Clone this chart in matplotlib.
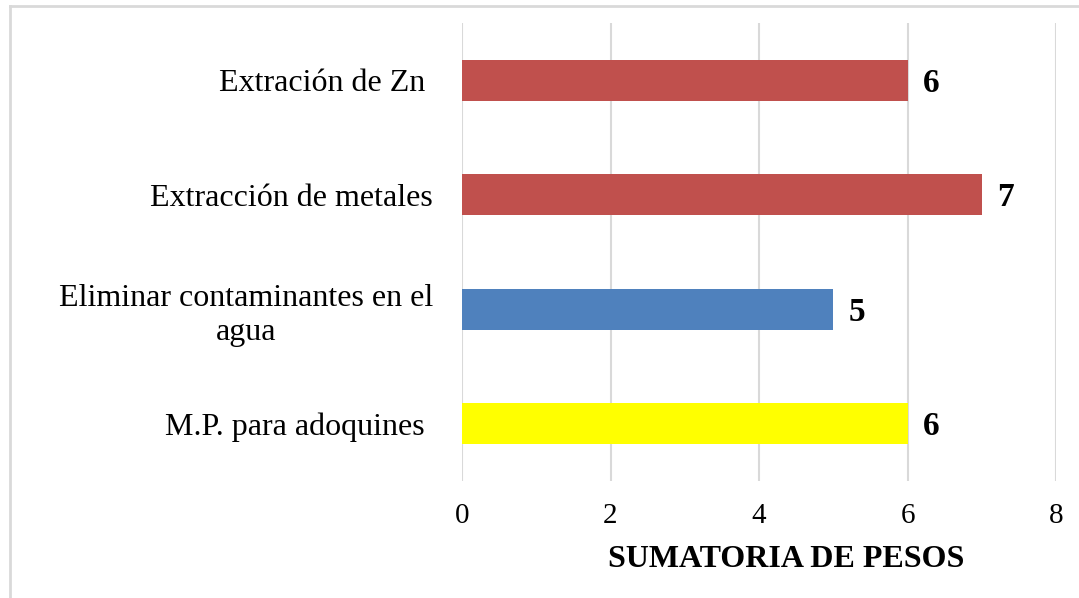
import matplotlib.pyplot as plt
from matplotlib.lines import Line2D

# categorias de baixo para cima
categorias = ["M.P. para adoquines ", "Eliminar contaminantes en el\nagua",
              "Extracción de metales", "Extración de Zn "]
pesos = [6, 5, 7, 6]
cores = ["#FFFF00", "#4F81BD", "#C0504D", "#C0504D"]
ticks_x = [0, 2, 4, 6, 8]

plt.rcParams['font.family'] = ['Liberation Serif', 'DejaVu Serif']

fig = plt.figure(figsize=(10.79, 5.98), dpi=100)
ax = fig.add_axes([462/1079, 1-481/598, (1056-462)/1079, (481-23)/598])

pos = range(len(categorias))
barras = ax.barh(pos, pesos, height=0.36, color=cores, zorder=3)

# valor no fim de cada barra
for b, v in zip(barras, pesos):
    ax.annotate(str(v), (b.get_width(), b.get_y() + b.get_height()/2),
                xytext=(11, -2), textcoords="offset points",
                ha="left", va="center", fontsize=24, fontweight="bold")

ax.set_xlim(0, 8)
ax.set_ylim(-0.5, 3.5)
ax.set_xticks(ticks_x)
ax.set_yticks(list(pos))
ax.set_yticklabels(categorias, multialignment="center", linespacing=1.25)
ax.tick_params(axis="both", length=0)
ax.tick_params(axis="x", pad=16, labelsize=21)
ax.tick_params(axis="y", pad=21, labelsize=23)
ax.grid(axis="x", color="#D9D9D9", linewidth=1.5, zorder=0)
for s in ax.spines.values():
    s.set_visible(False)

ax.set_xlabel("SUMATORIA DE PESOS", fontsize=23, fontweight="bold")
ax.xaxis.set_label_coords(0.545, -0.139)

# moldura cinza do gráfico
fig.add_artist(Line2D([9.5/1079, 1], [1-6/598, 1-6/598], color="#D9D9D9", lw=2))
fig.add_artist(Line2D([9.5/1079, 9.5/1079], [0, 1-6/598], color="#D9D9D9", lw=2))

fig.savefig("out.png", dpi=100)
